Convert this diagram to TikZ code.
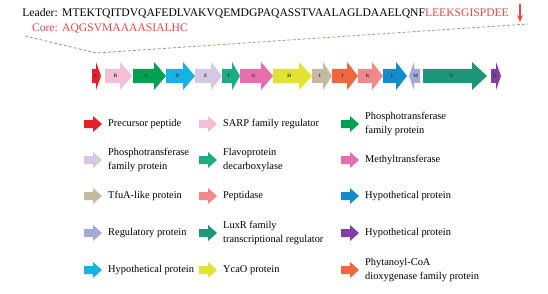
\documentclass[tikz,border=0pt]{standalone}
\usepackage{fontspec}
\setmainfont{Liberation Serif}
\usepackage{tikz}
\usetikzlibrary{arrows.meta, calc}
\usepackage{xcolor}
\definecolor{SQR}{RGB}{232,72,72}
\definecolor{ZL}{RGB}{150,158,118}
\definecolor{PRE}{RGB}{230,32,40}
\definecolor{SRP}{RGB}{244,190,214}
\definecolor{PHG}{RGB}{0,160,82}
\definecolor{HYC}{RGB}{22,178,230}
\definecolor{PHL}{RGB}{214,200,228}
\definecolor{FLV}{RGB}{30,172,132}
\definecolor{MTH}{RGB}{230,110,172}
\definecolor{YCA}{RGB}{226,226,50}
\definecolor{TFU}{RGB}{196,186,164}
\definecolor{PHY}{RGB}{240,102,62}
\definecolor{PEP}{RGB}{240,136,142}
\definecolor{HYB}{RGB}{20,140,204}
\definecolor{REG}{RGB}{162,170,216}
\definecolor{LUX}{RGB}{30,150,120}
\definecolor{HYP}{RGB}{130,62,162}

% gene arrow: name, x start, x end, head length, colour, label
\newcommand{\gene}[6]{%
  \fill[#5] (#2,69) -- ({#3-#4},69) -- ({#3-#4},62) -- (#3,76)
    -- ({#3-#4},90) -- ({#3-#4},83) -- (#2,83) -- cycle;
  \node[genelabel] (#1) at ({(#2+#3)/2-#4/4},76) {#6};
}
% legend entry: name, x, y, colour, text
\newcommand{\legitem}[5]{%
  \fill[#4] (#2,{#3-4}) -- ({#2+9},{#3-4}) -- ({#2+9},{#3-8}) -- ({#2+18},#3)
    -- ({#2+9},{#3+8}) -- ({#2+9},{#3+4}) -- (#2,{#3+4}) -- cycle;
  \node[legtext] (#1) at ({#2+24},#3) {#5};
}

\begin{document}
\begin{tikzpicture}[
  x=1pt, y=-1pt,
  seq/.style={anchor=base west, inner sep=0pt, font=\fontsize{11.6}{13}\selectfont},
  genelabel/.style={inner sep=0pt, font=\fontsize{5}{5}\selectfont\bfseries, text=black!80},
  legtext/.style={anchor=west, align=left, inner sep=0pt,
                  font=\fontsize{10.4}{13.5}\selectfont},
  zoomline/.style={draw=ZL, thick, dash pattern=on 3pt off 2pt}
]
\useasboundingbox (0,0) rectangle (548,294);

% Sequence
\node[seq, anchor=base east] (leadlab) at (58,17) {Leader:};
\node[seq] (leadseq) at (62,17)
  {MTEKTQITDVQAFEDLVAKVQEMDGPAQASSTVAALAGLDAAELQNF\textcolor{SQR}{LEEKSGISPDEE}};
\node[seq, anchor=base east, text=SQR] (corelab) at (58,32) {Core:};
\node[seq, text=SQR] (coreseq) at (62,32) {AQGSVMAAAASIALHC};
\coordinate (cuttop) at (520,4);
\coordinate (cutbot) at (520,22);
\draw[-{Stealth[length=7pt,width=6pt]}, SQR, line width=1.2pt] (cuttop) -- (cutbot);

% Zoom lines
\coordinate (zoomL) at (25,36);
\coordinate (zoomA) at (96,53);
\coordinate (zoomR) at (528,24);
\draw[zoomline] (zoomL) -- (zoomA) -- (zoomR);

% Gene cluster
\gene{A}{92}{101}{5}{PRE}{A}
\gene{B}{105}{132}{12}{SRP}{B}
\gene{C}{133}{166}{12}{PHG}{C}
\gene{D}{166}{195}{12}{HYC}{D}
\gene{E}{195}{222}{11}{PHL}{E}
\gene{F}{222}{240}{8}{FLV}{F}
\gene{G}{240}{273}{12}{MTH}{G}
\gene{H}{273}{312}{13}{YCA}{H}
\gene{I}{312}{332}{9}{TFU}{I}
\gene{J}{332}{358}{11}{PHY}{J}
\gene{K}{358}{383}{11}{PEP}{K}
\gene{L}{383}{407}{11}{HYB}{L}
\gene{M}{420}{409}{-5}{REG}{M}
\gene{N}{423}{487}{15}{LUX}{N}
\gene{O}{491}{501}{5}{HYP}{O}

% Legend
\legitem{lpre}{84}{124}{PRE}{Precursor peptide}
\legitem{lphl}{84}{160}{PHL}{Phosphotransferase\\family protein}
\legitem{ltfu}{84}{196}{TFU}{TfuA-like protein}
\legitem{lreg}{84}{233}{REG}{Regulatory protein}
\legitem{lhyc}{84}{270}{HYC}{Hypothetical protein}
\legitem{lsrp}{199}{124}{SRP}{SARP family regulator}
\legitem{lflv}{199}{160}{FLV}{Flavoprotein\\decarboxylase}
\legitem{lpep}{199}{196}{PEP}{Peptidase}
\legitem{llux}{199}{233}{LUX}{LuxR family\\transcriptional regulator}
\legitem{lyca}{199}{270}{YCA}{YcaO protein}
\legitem{lphg}{341}{124}{PHG}{Phosphotransferase\\family protein}
\legitem{lmth}{341}{160}{MTH}{Methyltransferase}
\legitem{lhyb}{341}{196}{HYB}{Hypothetical protein}
\legitem{lhyp}{341}{233}{HYP}{Hypothetical protein}
\legitem{lphy}{341}{270}{PHY}{Phytanoyl-CoA\\dioxygenase family protein}
\end{tikzpicture}
\end{document}
